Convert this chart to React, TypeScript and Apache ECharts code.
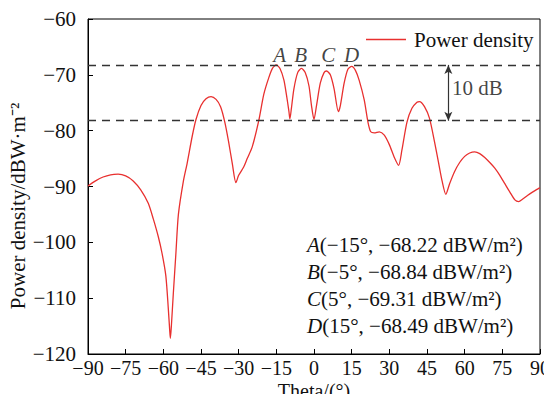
import React, { useEffect, useRef } from "react";
import * as echarts from "echarts";

const thetas = [
  -90, -87, -84, -81, -78, -75, -72, -69, -66, -64, -62, -60.5, -59, -58, -57.5, -57.2, -56.8, -56, -55, -54, -52,
  -50.5, -48.5, -47, -45, -43, -41, -39, -37.2, -35.5, -34, -32.5, -31.1, -30, -28, -26.6, -24.6, -22, -20, -18,
  -16.5, -15, -13.5, -12, -11, -10, -9.6, -9, -8, -6.5, -5, -3.5, -2, -1, 0, 1, 2.5, 4, 5, 6.5, 8, 9.7, 10.5, 12,
  13.5, 15, 16.5, 18, 20, 21.5, 22.6, 24, 26, 28, 30, 32, 33.7, 35, 37, 39, 41, 42, 44, 46, 48, 49.5, 51, 52.5, 54,
  56, 58, 60, 62, 64, 66, 68, 70, 72, 74, 76, 78, 80, 81.5, 83, 85, 87, 90,
];
const powers = [
  -89.9, -89.0, -88.3, -87.9, -87.8, -88.1, -89.0, -90.6, -93.0, -95.8, -99.0, -102, -106, -112, -115.5, -117.2,
  -115, -109, -102, -95, -89, -85.8, -81, -78, -75.5, -74.3, -73.9, -74.4, -75.7, -78.5, -82, -86, -89.3, -88,
  -86.5, -85, -82.9, -78.2, -73.5, -70.5, -68.8, -68.22, -68.9, -70.9, -73.5, -76.5, -77.9, -76, -72.5, -69.6,
  -68.84, -69.6, -72, -75.5, -78, -75.5, -71.5, -69.6, -69.31, -70, -72.5, -76.6, -75.5, -71.5, -69.0, -68.49,
  -69.2, -71, -74.5, -78.5, -80.2, -80.4, -80.2, -80.8, -82.5, -84.8, -86.2, -83.5, -78.5, -76, -74.9, -74.8,
  -75.7, -77.8, -82, -85.5, -89, -91.4, -89.5, -87.3, -85.7, -84.6, -84, -83.8, -84.1, -84.8, -85.7, -86.7, -88,
  -89.5, -91, -92.4, -92.7, -92.3, -91.6, -91, -90.2,
];

const pointNames = ["A", "B", "C", "D"];
const pointThetas = [-15, -5, 5, 15];
const pointValues = [-68.22, -68.84, -69.31, -68.49];
const pointLabelThetas = [-13.7, -5.3, 5.7, 15];
const pointLabelValue = -66.45;

const refLevel = -68.22;
const dropDb = 10;
const arrowTheta = 53.5;

const FONT = "'Liberation Serif', 'Times New Roman', serif";
const fmtMinus = (v: number) => String(v).replace("-", "\u2212");

export default function App() {
  const ref = useRef<HTMLDivElement>(null);
  useEffect(() => {
    if (!ref.current) return;
    const chart = echarts.init(ref.current, undefined, { renderer: "svg" });
    const lineData = thetas.map((t, i) => [t, powers[i]]);
    const labelData = pointNames.map((n, i) => [pointLabelThetas[i], pointLabelValue, n]);
    const boxLines = pointNames.map(
      (n, i) => `{i|${n}}(${fmtMinus(pointThetas[i])}°, ${fmtMinus(pointValues[i])} dBW/m²)`
    );
    const option: any = {
      animation: false,
      backgroundColor: "#fff",
      textStyle: { fontFamily: FONT },
      grid: {
        left: 88,
        right: 12,
        top: 19,
        bottom: 48,
        containLabel: false,
        outerBoundsMode: "none",
        show: true,
        borderColor: "#000",
        borderWidth: 1,
      },
      legend: {
        data: [{ name: "Power density", icon: "rect" }],
        left: 366,
        top: 29,
        padding: 0,
        itemWidth: 40,
        itemHeight: 1.4,
        itemGap: 0,
        textStyle: { fontFamily: FONT, fontSize: 21, color: "#111", padding: [0, 0, 0, 3] },
      },
      xAxis: {
        type: "value",
        min: -90,
        max: 90,
        interval: 15,
        name: "Theta/(°)",
        nameLocation: "middle",
        nameGap: 27,
        nameMoveOverlap: false,
        nameTextStyle: { fontFamily: FONT, fontSize: 20, color: "#111", lineHeight: 20 },
        axisLine: { onZero: false, lineStyle: { color: "#000", width: 1 } },
        axisTick: { inside: true, length: 5, lineStyle: { color: "#000" } },
        axisLabel: {
          fontFamily: FONT,
          fontSize: 20,
          lineHeight: 20,
          color: "#111",
          margin: 4,
          formatter: (v: number) => fmtMinus(v),
        },
        splitLine: { show: false },
      },
      yAxis: {
        type: "value",
        min: -120,
        max: -60,
        interval: 10,
        axisLine: { show: true, onZero: false, lineStyle: { color: "#000", width: 1 } },
        axisTick: { show: true, inside: true, length: 5, lineStyle: { color: "#000" } },
        axisLabel: {
          fontFamily: FONT,
          fontSize: 21,
          color: "#111",
          margin: 12,
          formatter: (v: number) => fmtMinus(v),
        },
        splitLine: { show: false },
      },
      series: [
        {
          name: "Power density",
          type: "line",
          data: lineData,
          symbol: "none",
          smooth: 0.25,
          lineStyle: { color: "#e8302f", width: 1.3 },
          itemStyle: { color: "#e8302f" },
          markLine: {
            silent: true,
            symbol: "none",
            label: { show: false },
            lineStyle: { color: "#333", width: 1.3, type: [8, 6] },
            data: [{ yAxis: refLevel }, { yAxis: refLevel - dropDb }],
          },
          z: 3,
        },
        {
          name: "arrow",
          type: "line",
          data: [],
          markLine: {
            silent: true,
            symbol: ["arrow", "arrow"],
            symbolSize: [6, 9],
            label: { show: false },
            lineStyle: { color: "#333", width: 1.2, type: "solid" },
            data: [[{ coord: [arrowTheta, refLevel] }, { coord: [arrowTheta, refLevel - dropDb] }]],
          },
        },
        {
          name: "labels",
          type: "scatter",
          data: labelData,
          symbolSize: 0,
          silent: true,
          label: {
            show: true,
            position: "inside",
            formatter: (p: any) => p.value[2],
            fontFamily: FONT,
            fontStyle: "italic",
            fontSize: 21,
            color: "#111",
          },
          z: 5,
        },
        {
          name: "dbLabel",
          type: "scatter",
          data: [[arrowTheta + 1.5, refLevel - dropDb / 2 + 0.8, `${dropDb} dB`]],
          symbolSize: 0,
          silent: true,
          label: {
            show: true,
            position: "right",
            distance: 0,
            formatter: (p: any) => p.value[2],
            fontFamily: FONT,
            fontSize: 21,
            color: "#111",
          },
        },
      ],
      graphic: [
        {
          type: "text",
          x: 18,
          y: 206,
          rotation: Math.PI / 2,
          style: {
            text: "Power density/dBW·m⁻²",
            fontFamily: FONT,
            fontSize: 21,
            fill: "#111",
            align: "center",
            verticalAlign: "middle",
          },
        },
        ...boxLines.map((t, i) => ({
          type: "text",
          x: 307,
          y: 245 + i * 27,
          style: {
            text: t,
            fontFamily: FONT,
            fontSize: 21,
            fill: "#111",
            verticalAlign: "middle",
            rich: { i: { fontFamily: FONT, fontSize: 21, fontStyle: "italic", fill: "#111" } },
          },
        })),
      ],
    };
    chart.setOption(option);
    return () => chart.dispose();
  }, []);
  return <div ref={ref} style={{ width: 552, height: 402, margin: -8 }} />;
}
